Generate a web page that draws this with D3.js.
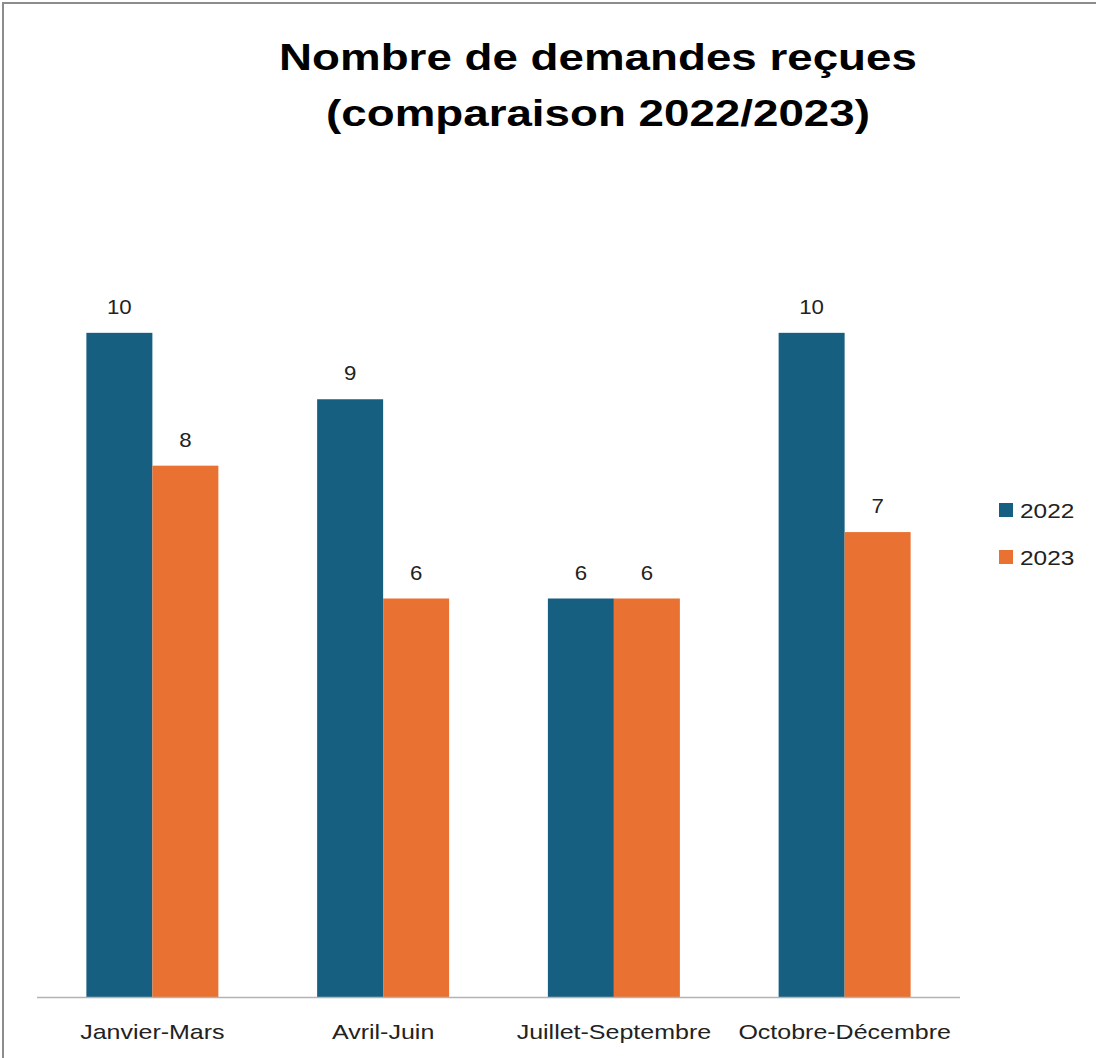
<!DOCTYPE html>
<html>
<head>
<meta charset="utf-8">
<script src="https://cdn.jsdelivr.net/npm/d3@7"></script>
<style>
  html, body { margin: 0; padding: 0; background: #fff; }
  svg { display: block; }
  text { font-family: "Liberation Sans", Arial, sans-serif; }
</style>
</head>
<body>
<svg id="chart" width="1096" height="1058"></svg>
<script>
const titleLines = ["Nombre de demandes reçues", "(comparaison 2022/2023)"];
const categories = ["Janvier-Mars", "Avril-Juin", "Juillet-Septembre", "Octobre-Décembre"];
const seriesNames = ["2022", "2023"];
const values2022 = [10, 9, 6, 10];
const values2023 = [8, 6, 6, 7];
const yAxisMax = 12;
const colors = ["#175F80", "#E97132"];

const seriesValues = [values2022, values2023];
const rows = categories.map((c, i) => ({
  category: c,
  values: seriesNames.map((s, j) => ({ series: s, value: seriesValues[j][i] }))
}));

const svg = d3.select("#chart");

// outer chart border (partially visible: top & left)
svg.append("rect")
  .attr("x", 3).attr("y", 3).attr("width", 1300).attr("height", 1300)
  .attr("fill", "none").attr("stroke", "#8c8c8c").attr("stroke-width", 2);

// widen glyphs to mimic the wider original font
function stretch(sel, k) {
  sel.each(function() {
    const len = this.getComputedTextLength();
    d3.select(this).attr("textLength", len * k).attr("lengthAdjust", "spacingAndGlyphs");
  });
}

// title
const title = svg.append("g").attr("class", "title");
title.selectAll("text").data(titleLines).join("text")
  .attr("x", 598)
  .attr("y", (d, i) => 70 + i * 56)
  .attr("text-anchor", "middle")
  .attr("font-size", 36)
  .attr("font-weight", "bold")
  .attr("fill", "#000")
  .text(d => d)
  .call(stretch, 1.27);

const plot = { left: 37, right: 960, top: 200, bottom: 997 };

const x0 = d3.scaleBand().domain(categories)
  .range([plot.left, plot.right]).paddingInner(0.428).paddingOuter(0.214);
const x1 = d3.scaleBand().domain(seriesNames).range([0, x0.bandwidth()]);
const y = d3.scaleLinear().domain([0, yAxisMax]).range([plot.bottom, plot.top]);
const color = d3.scaleOrdinal().domain(seriesNames).range(colors);

const groups = svg.append("g").selectAll("g").data(rows).join("g")
  .attr("transform", d => `translate(${x0(d.category)},0)`);

groups.selectAll("rect").data(d => d.values).join("rect")
  .attr("x", d => x1(d.series))
  .attr("y", d => y(d.value))
  .attr("width", x1.bandwidth())
  .attr("height", d => y(0) - y(d.value))
  .attr("fill", d => color(d.series));

groups.selectAll("text.val").data(d => d.values).join("text")
  .attr("class", "val")
  .attr("x", d => x1(d.series) + x1.bandwidth() / 2)
  .attr("y", d => y(d.value) - 19)
  .attr("text-anchor", "middle")
  .attr("font-size", 21)
  .attr("fill", "#222")
  .text(d => d.value)
  .call(stretch, 1.06);

// x axis
const xAxis = svg.append("g")
  .attr("transform", `translate(0,${plot.bottom})`)
  .call(d3.axisBottom(x0).tickSize(0).tickPadding(0).tickSizeOuter(0));
xAxis.select(".domain")
  .attr("d", `M${plot.left},0.5H${plot.right}`)
  .attr("stroke", "#b3b3b3").attr("stroke-width", 1.5);
xAxis.selectAll(".tick text")
  .attr("y", 42).attr("dy", 0)
  .attr("font-size", 21)
  .attr("font-family", "Liberation Sans, Arial, sans-serif")
  .attr("fill", "#222")
  .call(stretch, 1.19);

// legend
const legend = svg.append("g").selectAll("g").data(seriesNames).join("g")
  .attr("transform", (d, i) => `translate(999,${503 + i * 47})`);
legend.append("rect").attr("width", 14).attr("height", 14).attr("fill", d => color(d));
legend.append("text")
  .attr("x", 21).attr("y", 14.5)
  .attr("font-size", 20)
  .attr("fill", "#222")
  .text(d => d)
  .call(stretch, 1.22);
</script>
</body>
</html>
